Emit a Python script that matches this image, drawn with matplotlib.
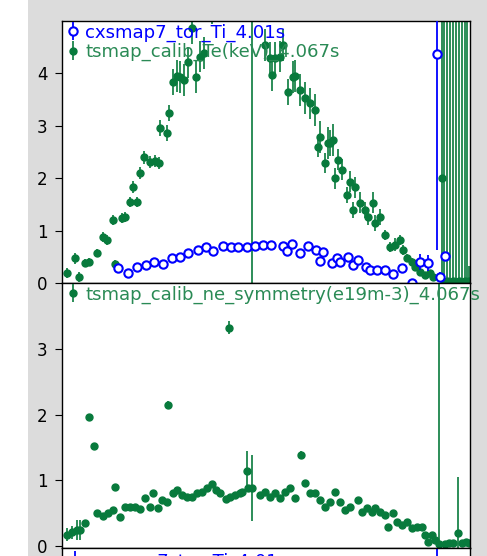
import matplotlib
matplotlib.use("Agg")
import matplotlib.pyplot as plt
from matplotlib.patches import Rectangle

GREEN = "#087a3c"
GREEN_TEXT = "#2a8a55"
BLUE = "#0000ff"

# tsmap_calib_Te(keV), top panel (peak points above 5 fall outside the view)
te_r = [1.610, 1.634, 1.626, 1.646, 1.654, 1.670, 1.682, 1.690, 1.702, 1.706,
        1.720, 1.726, 1.736, 1.742, 1.750, 1.756, 1.764, 1.776, 1.786, 1.794,
        1.796, 1.810, 1.814, 1.822, 1.830, 1.836, 1.844, 1.852, 1.860, 1.868,
        1.876, 1.884, 1.900, 1.916, 1.934, 1.950, 1.980, 1.996, 2.006, 2.016,
        2.020, 2.026, 2.036, 2.042, 2.052, 2.062, 2.066, 2.076, 2.086, 2.096,
        2.106, 2.116, 2.112, 2.132, 2.142, 2.126, 2.136, 2.146, 2.152, 2.160,
        2.170, 2.176, 2.186, 2.182, 2.196, 2.206, 2.212, 2.222, 2.226, 2.236,
        2.246, 2.256, 2.266, 2.276, 2.282, 2.290, 2.300, 2.306, 2.316, 2.326,
        2.336, 2.342, 2.360, 2.364, 2.370, 2.376, 2.382, 2.388, 2.394, 2.400,
        2.405, 2.410, 2.414]
te_val = [0.19, 0.11, 0.47, 0.38, 0.40, 0.57, 0.88, 0.82, 1.20, 0.36,
          1.24, 1.26, 1.55, 1.83, 1.55, 2.10, 2.40, 2.31, 2.33, 2.29,
          2.96, 2.86, 3.24, 3.84, 3.95, 3.93, 3.87, 4.21, 4.87, 3.93,
          4.32, 4.39, 5.25, 5.35, 5.40, 5.35, 5.40, 5.30, 4.54, 4.29,
          3.97, 4.29, 4.32, 4.54, 3.65, 3.93, 3.95, 3.68, 3.53, 3.43,
          3.30, 2.79, 2.60, 2.67, 2.73, 2.29, 2.67, 2.00, 2.35, 2.16,
          1.68, 1.93, 1.83, 1.39, 1.53, 1.39, 1.26, 1.53, 1.15, 1.26,
          0.92, 0.69, 0.73, 0.82, 0.63, 0.48, 0.40, 0.31, 0.21, 0.15,
          0.19, 0.11, 2.00, 0.02, 0.03, 0.02, 0.04, 0.02, 0.03, 0.02,
          0.03, 0.02, 0.03]
te_err = [0.10, 0.10, 0.10, 0.08, 0.08, 0.08, 0.10, 0.10, 0.10, 0.08,
          0.10, 0.10, 0.10, 0.12, 0.10, 0.12, 0.12, 0.12, 0.12, 0.12,
          0.15, 0.15, 0.15, 0.25, 0.30, 0.30, 0.30, 0.30, 0.30, 0.30,
          0.30, 0.30, 0.30, 0.30, 0.30, 0.30, 6.00, 0.30, 0.30, 0.30,
          0.30, 0.30, 0.30, 0.30, 0.25, 0.30, 0.30, 0.30, 0.30, 0.30,
          0.30, 0.30, 0.20, 0.30, 0.30, 0.20, 0.25, 0.20, 0.20, 0.20,
          0.15, 0.20, 0.20, 0.15, 0.20, 0.15, 0.15, 0.20, 0.15, 0.15,
          0.10, 0.10, 0.12, 0.10, 0.10, 0.08, 0.08, 0.08, 0.06, 0.06,
          0.06, 0.06, 6.00, 6.00, 6.00, 6.00, 6.00, 6.00, 6.00, 6.00,
          6.00, 6.00, 0.30]

# cxsmap7_tor_Ti, top panel
ti_r = [1.712, 1.732, 1.750, 1.768, 1.784, 1.802, 1.820, 1.836, 1.852, 1.872,
        1.888, 1.902, 1.922, 1.938, 1.952, 1.970, 1.986, 2.002, 2.018, 2.042,
        2.050, 2.060, 2.076, 2.092, 2.108, 2.116, 2.122, 2.140, 2.150, 2.156,
        2.172, 2.182, 2.192, 2.208, 2.216, 2.230, 2.246, 2.262, 2.280, 2.300,
        2.316, 2.332, 2.350, 2.356, 2.366]
ti_val = [0.29, 0.19, 0.31, 0.34, 0.40, 0.36, 0.48, 0.50, 0.57, 0.63,
          0.69, 0.61, 0.71, 0.69, 0.69, 0.69, 0.71, 0.73, 0.73, 0.71,
          0.61, 0.74, 0.57, 0.71, 0.63, 0.42, 0.59, 0.38, 0.48, 0.40,
          0.50, 0.34, 0.44, 0.31, 0.25, 0.25, 0.25, 0.17, 0.29, 0.00,
          0.40, 0.38, 4.37, 0.11, 0.52]
ti_err = [0.02] * 40 + [0.15, 0.15, 3.74, 0.10, 0.05]

# tsmap_calib_ne_symmetry(e19m-3), middle panel
ne_r = [1.610, 1.620, 1.630, 1.636, 1.646, 1.654, 1.664, 1.670, 1.682, 1.692,
        1.702, 1.706, 1.716, 1.726, 1.736, 1.746, 1.756, 1.766, 1.776, 1.782,
        1.792, 1.800, 1.810, 1.812, 1.822, 1.830, 1.840, 1.850, 1.860, 1.870,
        1.880, 1.890, 1.900, 1.908, 1.916, 1.928, 1.934, 1.936, 1.946, 1.956,
        1.960, 1.970, 1.972, 1.980, 1.996, 2.006, 2.016, 2.026, 2.036, 2.046,
        2.056, 2.066, 2.078, 2.086, 2.096, 2.106, 2.116, 2.126, 2.136, 2.146,
        2.156, 2.166, 2.176, 2.192, 2.200, 2.210, 2.220, 2.226, 2.236, 2.246,
        2.252, 2.262, 2.270, 2.280, 2.290, 2.300, 2.310, 2.320, 2.326, 2.332,
        2.340, 2.346, 2.354, 2.366, 2.374, 2.382, 2.392, 2.400, 2.408, 2.414]
ne_val = [0.17, 0.21, 0.24, 0.24, 0.35, 1.96, 1.52, 0.50, 0.46, 0.50,
          0.55, 0.90, 0.44, 0.59, 0.59, 0.59, 0.56, 0.73, 0.59, 0.81,
          0.58, 0.70, 0.67, 2.15, 0.80, 0.85, 0.78, 0.75, 0.75, 0.80,
          0.82, 0.88, 0.94, 0.85, 0.80, 0.72, 3.32, 0.75, 0.78, 0.80,
          0.82, 1.14, 0.88, 0.88, 0.78, 0.82, 0.75, 0.80, 0.73, 0.82,
          0.88, 0.73, 1.39, 0.96, 0.80, 0.80, 0.70, 0.59, 0.67, 0.82,
          0.67, 0.55, 0.59, 0.70, 0.52, 0.58, 0.52, 0.58, 0.52, 0.47,
          0.29, 0.50, 0.37, 0.32, 0.37, 0.27, 0.29, 0.29, 0.17, 0.06,
          0.17, 0.09, 0.03, 0.03, 0.04, 0.05, 0.20, 0.05, 0.06, 0.04]
ne_err = [0.10, 0.10, 0.15, 0.15, 0.05, 0.05, 0.05, 0.04, 0.04, 0.04,
          0.04, 0.04, 0.04, 0.03, 0.03, 0.03, 0.03, 0.03, 0.03, 0.03,
          0.03, 0.03, 0.03, 0.05, 0.03, 0.03, 0.03, 0.03, 0.03, 0.03,
          0.03, 0.03, 0.03, 0.03, 0.03, 0.03, 0.10, 0.03, 0.03, 0.03,
          0.03, 0.30, 0.03, 0.50, 0.03, 0.03, 0.03, 0.03, 0.03, 0.03,
          0.03, 0.03, 0.06, 0.03, 0.03, 0.03, 0.03, 0.03, 0.03, 0.03,
          0.03, 0.03, 0.03, 0.03, 0.03, 0.03, 0.03, 0.03, 0.03, 0.03,
          0.03, 0.03, 0.03, 0.03, 0.03, 0.03, 0.03, 0.03, 0.03, 0.03,
          0.03, 0.03, 6.00, 0.02, 0.02, 0.02, 0.85, 0.02, 0.02, 0.02]

plt.rcParams.update({
    "font.size": 12,
    "axes.linewidth": 1.0,
    "ytick.major.size": 5,
    "ytick.major.pad": 5.5,
})

fig = plt.figure(figsize=(4.87, 5.56), dpi=100, facecolor="white")
fig.patches.append(
    Rectangle((28 / 487, 0), 1, 1, transform=fig.transFigure,
              facecolor="#dcdcdc", edgecolor="none", zorder=-10)
)

left = 62 / 487
width = (470 - 62) / 487
ax_top = fig.add_axes([left, (556 - 283) / 556, width, (283 - 21) / 556])
ax_mid = fig.add_axes([left, (556 - 548) / 556, width, (548 - 283) / 556], sharex=ax_top)
ax_low = fig.add_axes([left, (556 - 548) / 556 - 0.47, width, 0.47], sharex=ax_top)

legend_kw = dict(loc="upper left", frameon=False, borderpad=0.15,
                 labelspacing=0.05, handlelength=0.9, handletextpad=0.22, fontsize=13.1)

ax_top.errorbar(ti_r, ti_val, yerr=ti_err, fmt="o", color=BLUE, mfc="white", mec=BLUE,
                ms=6, mew=1.5, elinewidth=1.3, label="cxsmap7_tor_Ti_4.01s", zorder=3)
ax_top.errorbar(te_r, te_val, yerr=te_err, fmt="o", color=GREEN, ms=5,
                elinewidth=1.2, label="tsmap_calib_Te(keV)_4.067s", zorder=2)
ax_top.set_ylim(0, 5)
ax_top.set_yticks([0, 1, 2, 3, 4])
leg = ax_top.legend(borderaxespad=0.0, **legend_kw)
leg.get_texts()[0].set_color(BLUE)
leg.get_texts()[1].set_color(GREEN_TEXT)

ax_mid.errorbar(ne_r, ne_val, yerr=ne_err, fmt="o", color=GREEN, ms=5,
                elinewidth=1.2, label="tsmap_calib_ne_symmetry(e19m-3)_4.067s")
ax_mid.set_ylim(-0.03, 4.0)
ax_mid.set_yticks([0, 1, 2, 3])
leg = ax_mid.legend(borderaxespad=0.0, **legend_kw)
leg.get_texts()[0].set_color(GREEN_TEXT)

ax_low.errorbar(ti_r, ti_val, yerr=ti_err, fmt="o", color=BLUE, mfc="white", mec=BLUE,
                ms=6, mew=1.5, elinewidth=1.3, label="cxsmap7_tor_Ti_4.01s")
ax_low.set_ylim(0, 5)
ax_low.set_yticks([])
leg = ax_low.legend(borderaxespad=0.12, **legend_kw)
leg.get_texts()[0].set_color(BLUE)

ax_top.set_xlim(1.60, 2.416)
for axis in [ax_top, ax_mid, ax_low]:
    axis.tick_params(axis="x", bottom=False, labelbottom=False)

fig.savefig("out.png", dpi=100, facecolor=fig.get_facecolor())
